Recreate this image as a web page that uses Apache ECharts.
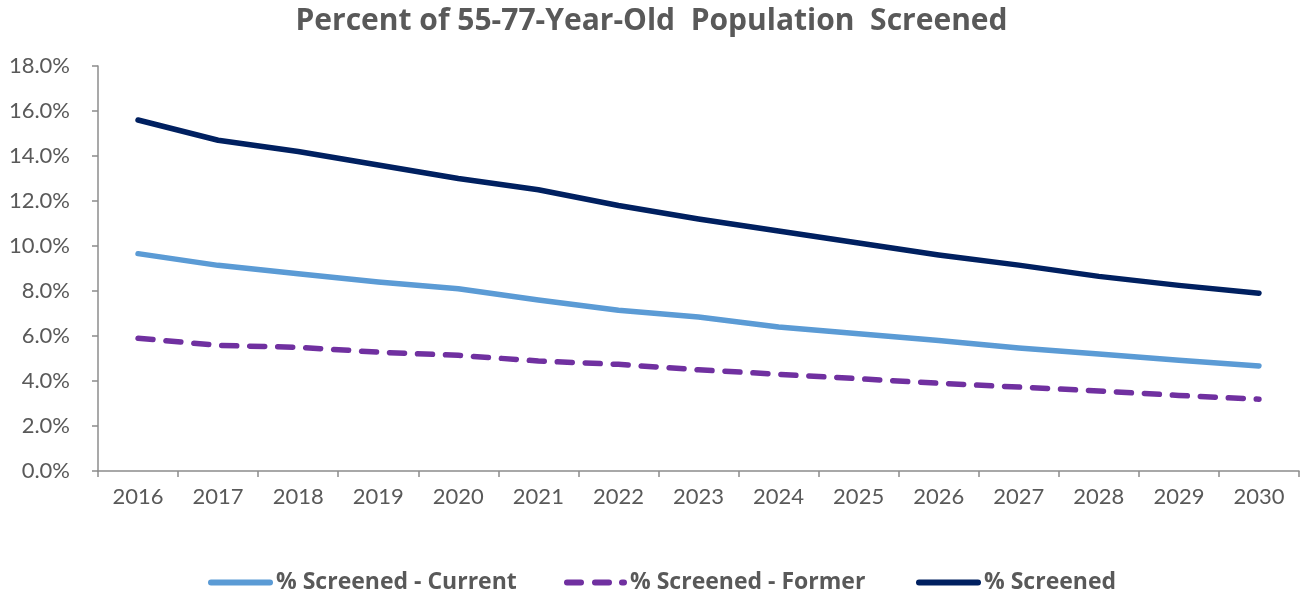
<!DOCTYPE html>
<html>
<head>
<meta charset="utf-8">
<script src="https://cdn.jsdelivr.net/npm/echarts@6/dist/echarts.min.js"></script>
<style>
  html, body { margin: 0; padding: 0; background: #fff; }
  #chart { width: 1303px; height: 594px; }
</style>
</head>
<body>
<div id="chart"></div>
<script>
// 年份
const years = ['2016', '2017', '2018', '2019', '2020', '2021', '2022', '2023', '2024', '2025', '2026', '2027', '2028', '2029', '2030']
// 各系列数值（%）
const screenedCurrent = [9.66, 9.14, 8.77, 8.4, 8.1, 7.6, 7.14, 6.84, 6.4, 6.1, 5.8, 5.47, 5.2, 4.92, 4.67]
const screenedFormer = [5.9, 5.58, 5.5, 5.28, 5.14, 4.89, 4.74, 4.5, 4.3, 4.1, 3.9, 3.73, 3.56, 3.36, 3.19]
const screenedTotal = [15.6, 14.7, 14.2, 13.6, 13.0, 12.5, 11.8, 11.2, 10.67, 10.13, 9.6, 9.15, 8.65, 8.25, 7.9]
// y轴刻度
const yTicks = { min: 0, max: 18, interval: 2 }

const font = 'Lato, Open Sans, sans-serif'
const boldFont = 'Open Sans, Lato, sans-serif'
const grey = '#595959'

// 图例图标（实线 / 虚线）
const solidIcon = 'path://M3,0H62A3,3 0 0 1 62,6H3A3,3 0 0 1 3,0Z'
const dashIcon = 'path://M3,0H17A3,3 0 0 1 17,6H3A3,3 0 0 1 3,0Z M31,0H45A3,3 0 0 1 45,6H31A3,3 0 0 1 31,0Z M58,0H60A3,3 0 0 1 60,6H58A3,3 0 0 1 58,0Z'

function legendItem(name, icon, left, width) {
  return {
    data: [{ name: name, icon: icon }],
    left: left,
    top: 566,
    itemWidth: width,
    itemHeight: 6,
    itemGap: 0,
    textStyle: {
      fontFamily: boldFont,
      fontSize: 23,
      fontWeight: 'bold',
      color: grey,
      padding: [0, 0, 0, -2]
    }
  }
}

const myChart = echarts.init(document.querySelector('#chart'))
const option = {
  animation: false,
  // 标题
  title: {
    text: 'Percent of 55-77-Year-Old  Population  Screened',
    left: 'center',
    top: 1,
    textStyle: {
      fontFamily: boldFont,
      fontSize: 30,
      fontWeight: 'bold',
      color: grey
    }
  },
  grid: {
    left: 98,
    right: 4,
    top: 66,
    bottom: 123
  },
  legend: [
    legendItem('% Screened - Current', solidIcon, 203, 65),
    legendItem('% Screened - Former', dashIcon, 559, 63),
    legendItem('% Screened', solidIcon, 911, 65)
  ],
  xAxis: {
    type: 'category',
    data: years,
    boundaryGap: true,
    axisLine: { lineStyle: { color: '#8c8c8c', width: 1.5 } },
    axisTick: { show: true, length: 6, lineStyle: { color: '#8c8c8c', width: 1.5 } },
    axisLabel: {
      fontFamily: font,
      fontSize: 22,
      color: grey,
      margin: 15
    }
  },
  yAxis: {
    type: 'value',
    min: yTicks.min,
    max: yTicks.max,
    interval: yTicks.interval,
    splitLine: { show: false },
    axisLine: { show: true, lineStyle: { color: '#8c8c8c', width: 1.5 } },
    axisTick: { show: true, length: 6, lineStyle: { color: '#8c8c8c', width: 1.5 } },
    axisLabel: {
      fontFamily: font,
      fontSize: 22,
      color: grey,
      margin: 28,
      formatter: v => v.toFixed(1) + '%'
    }
  },
  series: [
    {
      name: '% Screened - Current',
      type: 'line',
      data: screenedCurrent,
      symbol: 'none',
      lineStyle: { color: '#5b9bd5', width: 5.5, cap: 'round', join: 'round' },
      itemStyle: { color: '#5b9bd5' }
    },
    {
      name: '% Screened - Former',
      type: 'line',
      data: screenedFormer,
      symbol: 'none',
      lineStyle: { color: '#7030a0', width: 5.5, type: [15, 13], cap: 'round', join: 'round' },
      itemStyle: { color: '#7030a0' }
    },
    {
      name: '% Screened',
      type: 'line',
      data: screenedTotal,
      symbol: 'none',
      lineStyle: { color: '#002060', width: 5.5, cap: 'round', join: 'round' },
      itemStyle: { color: '#002060' }
    }
  ]
}
myChart.setOption(option)
</script>
</body>
</html>
